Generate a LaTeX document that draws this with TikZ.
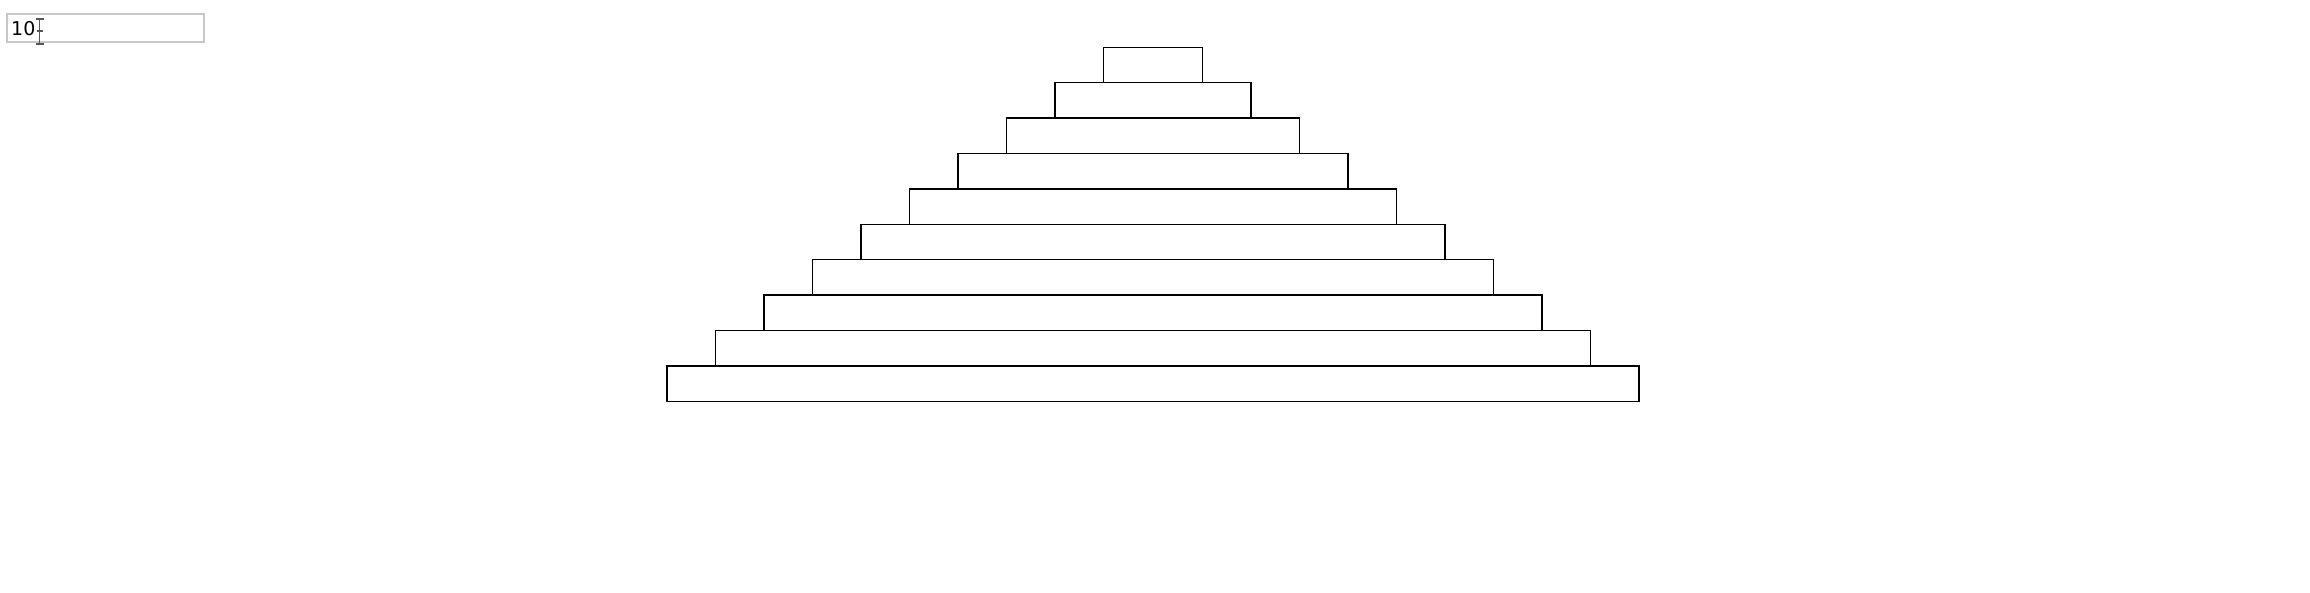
\documentclass[tikz,border=0pt]{standalone}
\usepackage{fontspec}
\setmainfont{DejaVu Sans}
\usetikzlibrary{calc}
\definecolor{frame}{HTML}{C8C8C8}
\definecolor{caret}{HTML}{555555}
\tikzset{tier/.style={draw=black,line width=1.5pt,fill=white},
inputbox/.style={draw=frame,line width=2pt,fill=white},
beam/.style={caret,line width=1.6pt}}

\begin{document}
\begin{tikzpicture}[x=1pt,y=-1pt]
\useasboundingbox (0,0) rectangle (2310,592);
\draw[inputbox] (7,14) rectangle (204,42);
\node[anchor=west,font=\fontsize{19}{19}\selectfont,inner sep=0pt] (count) at (11,28.5) {10};
% text cursor
\draw[beam] (39.5,19)--(39.5,44);
\draw[beam] (35.5,19)--(43.5,19);
\draw[beam] (35.5,44)--(43.5,44);
\draw[beam] (36.5,31)--(42.5,31);
% pyramid tiers
\foreach \i in {0,...,9}{
  \pgfmathsetmacro{\hw}{(99+97*\i)/2}
  \pgfmathsetmacro{\top}{47.3+35.4*\i}
  \draw[tier] (1153-\hw,\top) rectangle (1153+\hw,\top+35.4);
}
\end{tikzpicture}
\end{document}
